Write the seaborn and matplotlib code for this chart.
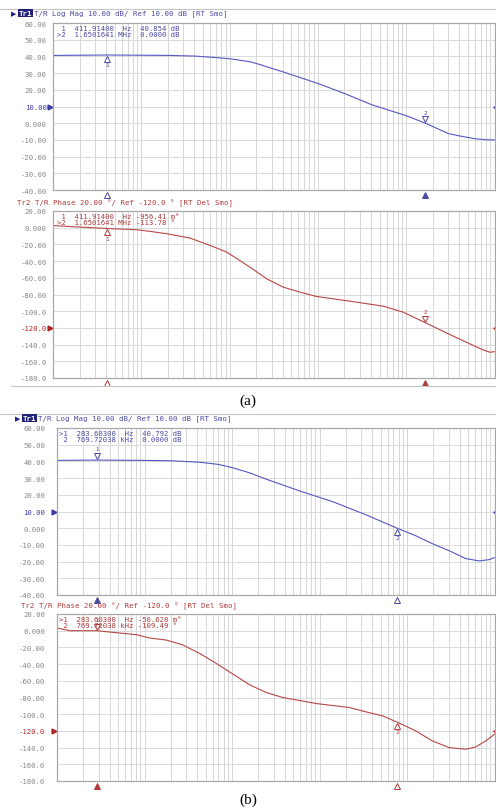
import numpy as np
import pandas as pd
import matplotlib
matplotlib.use("Agg")
import matplotlib.pyplot as plt
import matplotlib.ticker as mticker
import matplotlib.transforms as mtrans
from matplotlib.lines import Line2D
import seaborn as sns

# ---- data ----
# (a) magnitude trace
freq_a_mag = [100, 200, 411.914, 1e3, 2e3, 4e3, 7e3, 1e4, 1.7e4, 2e4, 4e4, 1e5, 2e5, 4e5,
              1e6, 1.65e6, 3e6, 4e6, 6e6, 8e6, 1e7]
mag_a = [40.6, 40.7, 40.85, 40.7, 40.6, 40.2, 39.3, 38.6, 36.8, 35.8, 30.8, 23.8, 17.8, 11.2,
         4.5, 0.0, -6.2, -7.6, -9.3, -9.9, -10.0]

# (a) phase trace
freq_a_ph = [100, 411.914, 887, 1255, 1940, 3560, 6000, 9270, 1.7e4, 2.63e4, 4.06e4, 6.27e4,
             9.69e4, 2.31e5, 5.51e5, 9.27e5, 1.65e6, 3.13e6, 5.28e6, 7.46e6, 8.9e6, 1e7]
phase_a = [2.5, -0.96, -2.4, -4.4, -7.2, -12.4, -21.2, -29.2, -47.2, -61.2, -71.2, -77.2,
           -82.4, -88.0, -94.0, -101.2, -113.8, -128.0, -139.2, -146.4, -149.2, -148.4]

# (b) magnitude trace
freq_b_mag = [100, 283.603, 1e3, 2e3, 4270, 7e3, 1.02e4, 1.58e4, 2.45e4, 5.86e4, 1.43e5,
              3.41e5, 769720, 1.27e6, 1.94e6, 3.07e6, 4.7e6, 6.7e6, 8.7e6, 1e7]
mag_b = [40.6, 40.79, 40.6, 40.4, 39.5, 38.2, 36.2, 33.2, 29.4, 22.4, 15.8,
         8.0, 0.0, -4.6, -9.2, -13.6, -18.2, -19.6, -18.8, -17.6]

# (b) phase trace
freq_b_ph = [100, 141, 200, 283.603, 480, 811, 1150, 1780, 2760, 4270, 6620, 1.024e4, 1.59e4,
             2.46e4, 3.8e4, 9.14e4, 2.19e5, 3.4e5, 5.26e5, 769720, 1.26e6, 1.95e6, 3.03e6,
             4.7e6, 6.1e6, 7.94e6, 1e7]
phase_b = [3.2, 0.0, 0.0, -0.05, -2.4, -4.8, -8.8, -11.2, -17.2, -27.2, -39.2, -52.0, -64.8,
           -74.0, -80.0, -87.2, -92.0, -97.2, -102.0, -109.5, -120.0, -132.0, -140.0,
           -142.0, -139.2, -132.0, -124.0]

# markers: frequency, readings
markers_a_freq = [411.914, 1.6501641e6]
markers_a_mag = [40.854, 0.0]
markers_a_ph = [-0.956, -113.78]
markers_b_freq = [283.603, 769720.38]
markers_b_mag = [40.792, 0.0]
markers_b_ph = [-0.0506, -109.49]

mag_ticks = [60, 50, 40, 30, 20, 10, 0, -10, -20, -30, -40]
mag_labels = ["60.00", "50.00", "40.00", "30.00", "20.00", "10.00", "0.000",
              "-10.00", "-20.00", "-30.00", "-40.00"]
ph_ticks = [20, 0, -20, -40, -60, -80, -100, -120, -140, -160, -180]
ph_labels = ["20.00", "0.000", "-20.00", "-40.00", "-60.00", "-80.00", "-100.0",
             "-120.0", "-140.0", "-160.0", "-180.0"]

BLUE = "#5656c4"
BLUE_TXT = "#4a4aa6"
RED = "#b84646"
RED_TXT = "#b03a3a"
GRAY = "#868686"
MONO = "DejaVu Sans Mono"

sns.set_style("white")
plt.rcParams["font.family"] = ["DejaVu Sans"]

W, H = 496, 812
fig = plt.figure(figsize=(W / 100, H / 100), dpi=100)


def px_axes(left, top, right, bottom):
    return fig.add_axes([left / W, 1 - bottom / H, (right - left) / W, (bottom - top) / H])


def ftext(x, y, s, **kw):
    return fig.text(x / W, 1 - y / H, s, va="center", **kw)


def hline(y, x0=0, x1=W):
    fig.add_artist(Line2D([x0 / W, x1 / W], [1 - y / H, 1 - y / H], color="#c4c4c4", lw=0.8))


def style_axes(ax, ticks, labels, ref, color, pad):
    ax.set_xscale("log")
    ax.set_xlim(100, 1e7)
    ax.set_ylim(ticks[-1], ticks[0])
    ax.set_yticks(ticks)
    ax.set_yticklabels(labels, family=MONO, fontsize=5.2)
    for t, v in zip(ax.get_yticklabels(), ticks):
        t.set_color(color if v == ref else GRAY)
    ax.xaxis.set_major_locator(mticker.LogLocator(base=10))
    ax.xaxis.set_minor_locator(mticker.LogLocator(base=10, subs=np.arange(2, 10)))
    ax.xaxis.set_major_formatter(mticker.NullFormatter())
    ax.xaxis.set_minor_formatter(mticker.NullFormatter())
    ax.tick_params(axis="both", which="both", length=0)
    ax.tick_params(axis="y", pad=pad)
    ax.grid(True, which="both", axis="x", color="#d6d6d6", lw=0.7)
    ax.grid(True, which="major", axis="y", color="#dadada", lw=0.7)
    ax.set_axisbelow(True)
    for sp in ax.spines.values():
        sp.set_color("#a8a8a8")
        sp.set_linewidth(0.9)
    ax.set_xlabel("")
    ax.set_ylabel("")
    # reference level arrows
    ax.plot([-0.006], [ref], marker=">", ms=3.5, color=color, clip_on=False,
            transform=mtrans.blended_transform_factory(ax.transAxes, ax.transData))
    ax.plot([1.0], [ref], marker="<", ms=2.5, color=color, clip_on=False,
            transform=mtrans.blended_transform_factory(ax.transAxes, ax.transData))


def draw_markers(ax, freqs, vals, color, places, active):
    bt = mtrans.blended_transform_factory(ax.transData, ax.transAxes)
    for i, (f, v, place) in enumerate(zip(freqs, vals, places)):
        num = str(i + 1)
        if place == "below":
            ax.plot([f], [v], marker="^", ms=4, mfc="white", mec=color, mew=0.7,
                    transform=mtrans.offset_copy(ax.transData, fig, x=0, y=-2.6, units="points"))
            ax.annotate(num, (f, v), xytext=(0, -7), textcoords="offset points",
                        ha="center", va="center", fontsize=4.5, color=color, family=MONO)
        else:
            ax.plot([f], [v], marker="v", ms=4, mfc="white", mec=color, mew=0.7,
                    transform=mtrans.offset_copy(ax.transData, fig, x=0, y=2.8, units="points"))
            ax.annotate(num, (f, v), xytext=(0, 8), textcoords="offset points",
                        ha="center", va="center", fontsize=4.2, color=color, family=MONO)
        filled = (i == active)
        ax.plot([f], [-0.03], marker="^", ms=4.5, mfc=color if filled else "white",
                mec=color, mew=0.7, clip_on=False, transform=bt)


def trace(ax, freqs, vals, color):
    df = pd.DataFrame({"freq": freqs, "val": vals})
    sns.lineplot(data=df, x="freq", y="val", ax=ax, color=color, linewidth=0.8)


# ---------------- panel (a) ----------------
hline(10)
ax1 = px_axes(53, 24, 494.5, 191)
trace(ax1, freq_a_mag, mag_a, BLUE)
style_axes(ax1, mag_ticks, mag_labels, 10, "#3a3aa8", 4.5)
draw_markers(ax1, markers_a_freq, markers_a_mag, BLUE_TXT, ["below", "above"], 1)
ax1.text(0.01, 0.99, " 1  411.91400  Hz  40.854 dB\n>2  1.6501641 MHz  0.0000 dB",
         transform=ax1.transAxes, va="top", ha="left", family=MONO, fontsize=5.2,
         color=BLUE_TXT, linespacing=1.0)

ax2 = px_axes(53, 212, 494.5, 379)
trace(ax2, freq_a_ph, phase_a, RED)
style_axes(ax2, ph_ticks, ph_labels, -120, "#b02424", 4.5)
draw_markers(ax2, markers_a_freq, markers_a_ph, RED_TXT, ["below", "above"], 1)
ax2.text(0.01, 0.99, " 1  411.91400  Hz -956.41 m°\n>2  1.6501641 MHz -113.78 °",
         transform=ax2.transAxes, va="top", ha="left", family=MONO, fontsize=5.2,
         color=RED_TXT, linespacing=1.0)

ftext(11, 14, "▶", fontsize=5, color="#23238a")
ftext(19, 14, "Tr1", family=MONO, fontsize=5.3, color="white", fontweight="bold",
      bbox=dict(boxstyle="square,pad=0.12", fc="#23237a", ec="none"))
ftext(34, 14, "T/R Log Mag 10.00 dB/ Ref 10.00 dB [RT Smo]", family=MONO, fontsize=5.3,
      color=BLUE_TXT)
ftext(17, 203, "Tr2 T/R Phase 20.00 °/ Ref -120.0 ° [RT Del Smo]", family=MONO,
      fontsize=5.3, color=RED_TXT)
hline(387, 11, W)
ftext(248, 401, "(a)", ha="center", family="Liberation Serif", fontsize=11, color="black")

# ---------------- panel (b) ----------------
hline(415)
ax3 = px_axes(57, 429, 494.5, 596)
trace(ax3, freq_b_mag, mag_b, BLUE)
style_axes(ax3, mag_ticks, mag_labels, 10, "#3a3aa8", 8.5)
draw_markers(ax3, markers_b_freq, markers_b_mag, BLUE_TXT, ["above", "below"], 0)
ax3.text(0.005, 0.99, ">1  283.60300  Hz  40.792 dB\n 2  769.72038 kHz  0.0000 dB",
         transform=ax3.transAxes, va="top", ha="left", family=MONO, fontsize=5.2,
         color=BLUE_TXT, linespacing=1.0)

ax4 = px_axes(57, 615, 494.5, 782)
trace(ax4, freq_b_ph, phase_b, RED)
style_axes(ax4, ph_ticks, ph_labels, -120, "#b02424", 8.5)
draw_markers(ax4, markers_b_freq, markers_b_ph, RED_TXT, ["above", "below"], 0)
ax4.text(0.005, 0.99, ">1  283.60300  Hz -50.628 m°\n 2  769.72038 kHz -109.49 °",
         transform=ax4.transAxes, va="top", ha="left", family=MONO, fontsize=5.2,
         color=RED_TXT, linespacing=1.0)

ftext(15, 419, "▶", fontsize=5, color="#23238a")
ftext(23, 419, "Tr1", family=MONO, fontsize=5.3, color="white", fontweight="bold",
      bbox=dict(boxstyle="square,pad=0.12", fc="#23237a", ec="none"))
ftext(38, 419, "T/R Log Mag 10.00 dB/ Ref 10.00 dB [RT Smo]", family=MONO, fontsize=5.3,
      color=BLUE_TXT)
ftext(21, 606, "Tr2 T/R Phase 20.00 °/ Ref -120.0 ° [RT Del Smo]", family=MONO,
      fontsize=5.3, color=RED_TXT)
ftext(248, 800, "(b)", ha="center", family="Liberation Serif", fontsize=11, color="black")

fig.savefig("out.png", dpi=100, facecolor="white")
